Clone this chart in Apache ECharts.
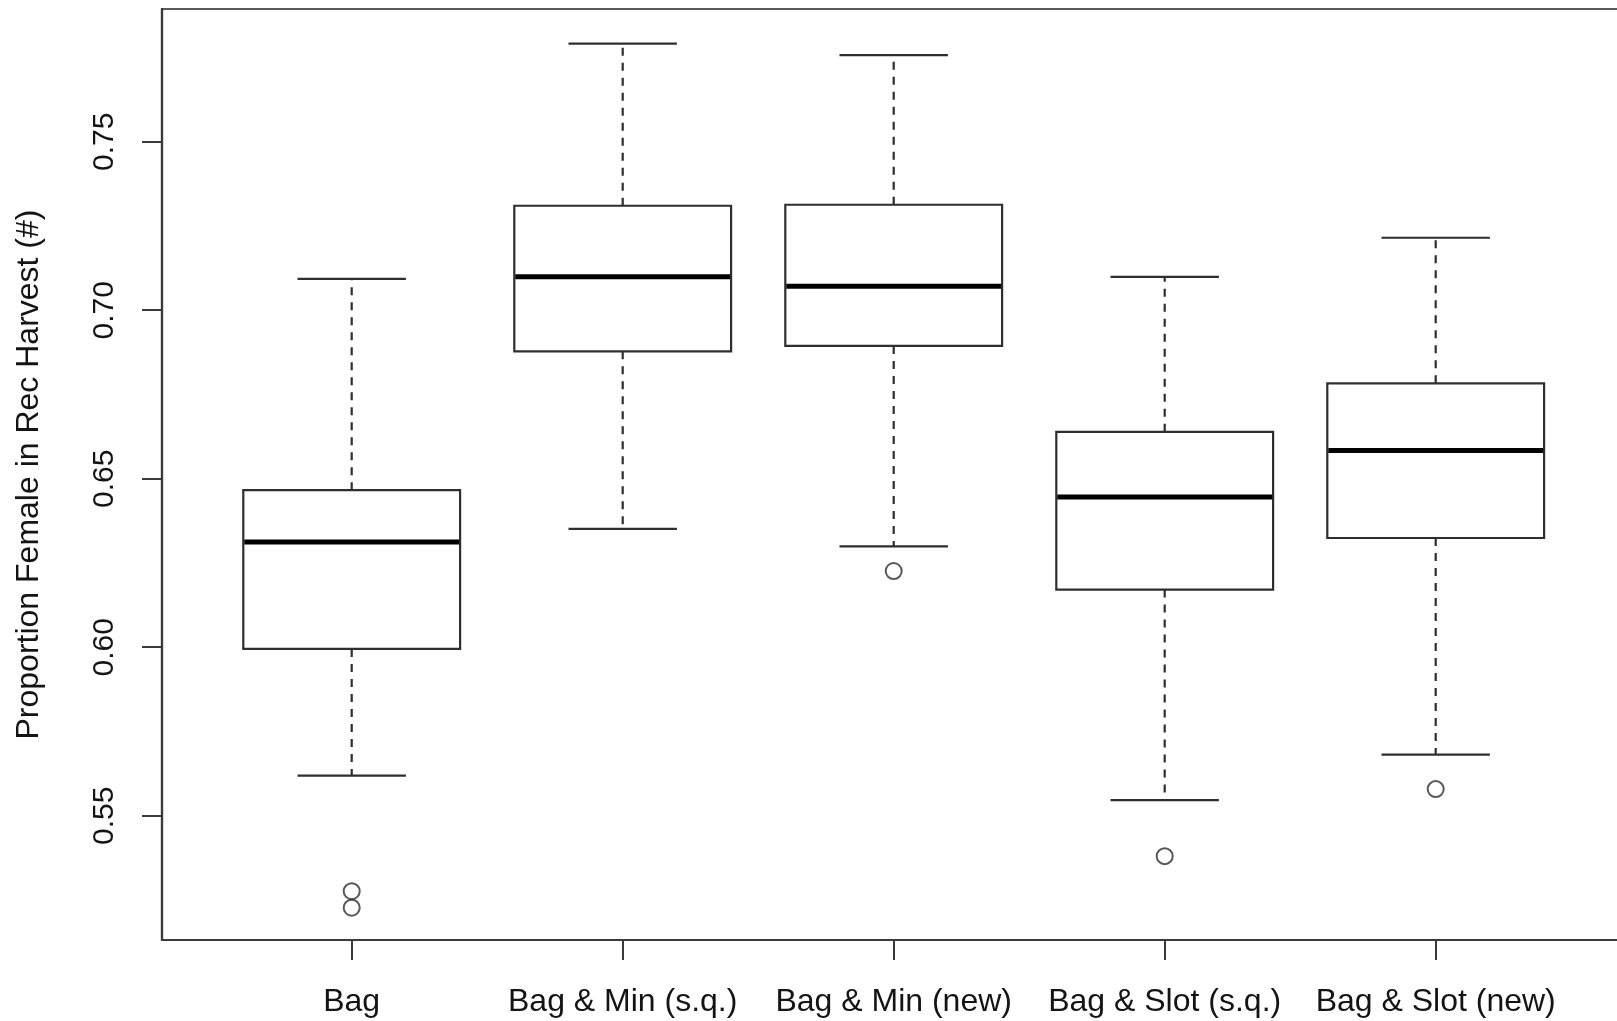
<!DOCTYPE html>
<html>
<head>
<meta charset="utf-8">
<title>Proportion Female in Rec Harvest</title>
<script src="https://cdn.jsdelivr.net/npm/echarts@6/dist/echarts.min.js"></script>
<style>
  html, body { margin: 0; padding: 0; background: #ffffff; }
  #chart { width: 1617px; height: 1021px; }
</style>
</head>
<body>
<div id="chart"></div>
<script>
// Five-number summaries per management scenario
const categories  = ['Bag', 'Bag & Min (s.q.)', 'Bag & Min (new)', 'Bag & Slot (s.q.)', 'Bag & Slot (new)'];
const whiskerLow  = [0.5619, 0.6351, 0.6299, 0.5546, 0.5681];
const quartile1   = [0.5995, 0.6878, 0.6894, 0.6171, 0.6324];
const medians     = [0.6312, 0.7099, 0.7071, 0.6446, 0.6584];
const quartile3   = [0.6466, 0.7310, 0.7313, 0.6639, 0.6783];
const whiskerHigh = [0.7093, 0.7791, 0.7757, 0.7099, 0.7215];

// Points beyond the whiskers (scenario index, value)
const outlierGroup = [0, 0, 2, 3, 4];
const outlierValue = [0.5276, 0.5227, 0.6226, 0.5380, 0.5579];

// Axis ticks
const yTicks = [0.55, 0.60, 0.65, 0.70, 0.75];
const xTicks = categories.map((c, i) => i + 1);

const FONT = "'Liberation Sans', Arial, Helvetica, sans-serif";
const INK = '#2e2e2e';
const TEXT = '#141414';

const boxData = categories.map((c, i) => [i + 1, whiskerLow[i], quartile1[i], medians[i], quartile3[i], whiskerHigh[i]]);
const outlierData = outlierGroup.map((g, k) => [g + 1, outlierValue[k]]);

function renderBox(params, api) {
  const x = api.value(0);
  const pLo = api.coord([x, api.value(1)]);
  const pQ1 = api.coord([x, api.value(2)]);
  const pMd = api.coord([x, api.value(3)]);
  const pQ3 = api.coord([x, api.value(4)]);
  const pHi = api.coord([x, api.value(5)]);
  const boxW = api.size([0.8, 0])[0];
  const capW = api.size([0.4, 0])[0];
  const cx = pMd[0];
  const solid = { stroke: INK, lineWidth: 2.2, fill: null };
  const dashed = { stroke: INK, lineWidth: 2.2, fill: null, lineDash: [8, 7] };
  return {
    type: 'group',
    children: [
      { type: 'line', shape: { x1: cx, y1: pQ3[1], x2: cx, y2: pHi[1] }, style: dashed },
      { type: 'line', shape: { x1: cx, y1: pQ1[1], x2: cx, y2: pLo[1] }, style: dashed },
      { type: 'line', shape: { x1: cx - capW / 2, y1: pHi[1], x2: cx + capW / 2, y2: pHi[1] }, style: solid },
      { type: 'line', shape: { x1: cx - capW / 2, y1: pLo[1], x2: cx + capW / 2, y2: pLo[1] }, style: solid },
      { type: 'rect', shape: { x: cx - boxW / 2, y: pQ3[1], width: boxW, height: pQ1[1] - pQ3[1] },
        style: { fill: '#ffffff', stroke: INK, lineWidth: 2.2 } },
      { type: 'line', shape: { x1: cx - boxW / 2 + 1, y1: pMd[1], x2: cx + boxW / 2 - 1, y2: pMd[1] },
        style: { stroke: '#000000', lineWidth: 5, lineCap: 'butt' } }
    ]
  };
}

const chart = echarts.init(document.getElementById('chart'), null, { renderer: 'canvas' });
chart.setOption({
  animation: false,
  backgroundColor: '#ffffff',
  grid: {
    left: 162, top: 9, right: -8.4, bottom: 81,
    show: true, borderColor: '#5a5a5a', borderWidth: 2.2,
    outerBoundsMode: 'none', containLabel: false
  },
  xAxis: {
    type: 'value', min: 0.3, max: 5.7,
    axisLine: { show: true, lineStyle: { color: '#3a3a3a', width: 2.2 } },
    axisTick: { show: true, customValues: xTicks, length: 20, lineStyle: { color: '#3a3a3a', width: 2 } },
    axisLabel: {
      customValues: xTicks,
      formatter: v => categories[Math.round(v) - 1] || '',
      fontFamily: FONT, fontSize: 32, color: TEXT, margin: 46
    },
    splitLine: { show: false }
  },
  yAxis: {
    type: 'value', min: 0.51312, max: 0.78938,
    axisLine: { show: true, lineStyle: { color: '#3a3a3a', width: 2.2 } },
    axisTick: { show: true, customValues: yTicks, length: 20, lineStyle: { color: '#3a3a3a', width: 2 } },
    axisLabel: {
      customValues: yTicks, rotate: 90,
      formatter: v => v.toFixed(2),
      fontFamily: FONT, fontSize: 30, color: TEXT, margin: 42
    },
    splitLine: { show: false },
    name: 'Proportion Female in Rec Harvest (#)',
    nameLocation: 'middle', nameRotate: 90, nameGap: 117,
    nameTextStyle: { fontFamily: FONT, fontSize: 32, color: TEXT }
  },
  series: [
    {
      type: 'custom', renderItem: renderBox, data: boxData,
      encode: { x: 0, y: [1, 2, 3, 4, 5] }, silent: true, clip: false
    },
    {
      type: 'scatter', data: outlierData, symbol: 'emptyCircle', symbolSize: 16,
      itemStyle: { color: INK, borderColor: INK, borderWidth: 2 }, silent: true
    }
  ]
});
</script>
</body>
</html>
